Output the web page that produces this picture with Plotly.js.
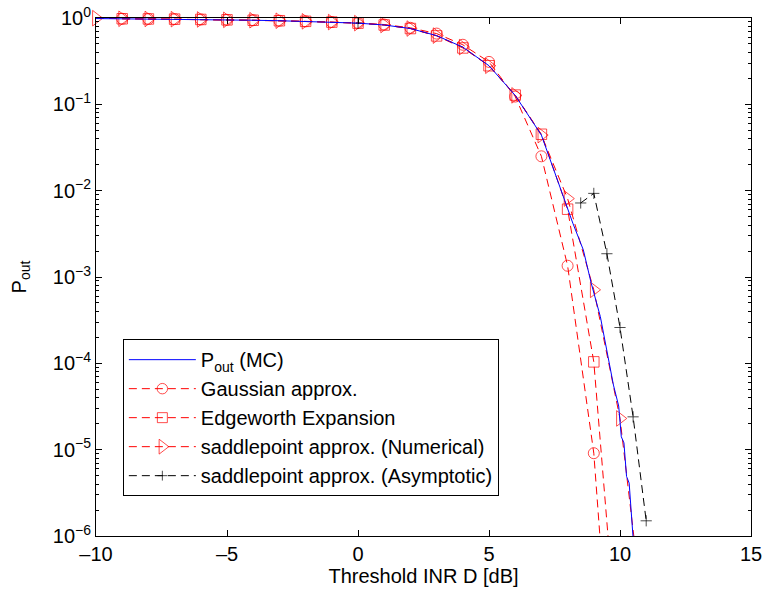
<!DOCTYPE html>
<html>
<head>
<meta charset="utf-8">
<script src="https://cdn.plot.ly/plotly-3.0.1.min.js"></script>
<style>html,body{margin:0;padding:0;background:#fff;}#chart{width:762px;height:592px;}</style>
</head>
<body>
<div id="chart"></div>
<script>
// ---- data ----
const mcX = [-10,-9,-8,-7,-6,-5,-4,-3,-2,-1,0,1,2,3,4,5,6,7,7.2,7.8,8.2,8.6,8.9,9.25,9.5,9.75,9.95,10.05,10.15,10.25,10.35,10.5];
const mcY = [0.985,0.98,0.975,0.97,0.962,0.952,0.942,0.93,0.915,0.897,0.872,0.83,0.755,0.625,0.46,0.28,0.127,0.044,0.0296,9.3e-3,4.2e-3,2.06e-3,8.5e-4,3.47e-4,1.43e-4,5.6e-5,3.2e-5,1.41e-5,1.2e-5,4.9e-6,4.1e-6,9.5e-7];

const gaussX = [-9,-8,-7,-6,-5,-4,-3,-2,-1,0,1,2,3,4,5,6,7,8,9,10];
const gaussY = [0.98,0.975,0.97,0.962,0.952,0.942,0.93,0.915,0.897,0.875,0.84,0.77,0.66,0.49,0.31,0.123,0.025,1.35e-3,9.1e-6,7e-10];

const edgeX = [-9,-8,-7,-6,-5,-4,-3,-2,-1,0,1,2,3,4,5,6,7,8,9,10];
const edgeY = [0.98,0.975,0.97,0.962,0.952,0.942,0.93,0.915,0.897,0.872,0.83,0.755,0.62,0.45,0.28,0.128,0.045,6.1e-3,1.04e-4,2e-8];

const spNumX = [-10,-9,-8,-7,-6,-5,-4,-3,-2,-1,0,1,2,3,4,5,6,7,8,9,10,11];
const spNumY = [0.995,0.98,0.975,0.97,0.962,0.952,0.942,0.93,0.915,0.897,0.872,0.83,0.755,0.625,0.46,0.28,0.127,0.044,8.1e-3,7.1e-4,2.3e-5,6e-8];

const spAsyX = [0,null,8.5,9,9.5,10,10.5,11];
const spAsyY = [0.87,null,7.2e-3,9.3e-3,1.86e-3,2.6e-4,2.4e-5,1.5e-6];

const xTickVals = [-10,-5,0,5,10,15];
const xTickText = ['–10','–5','0','5','10','15'];
const yTickVals = [1e-6,1e-5,1e-4,1e-3,1e-2,1e-1,1];
const yTickText = ['10<sup>−6</sup>','10<sup>−5</sup>','10<sup>−4</sup>','10<sup>−3</sup>','10<sup>−2</sup>','10<sup>−1</sup>','10<sup>0</sup>'];

const names = ['P<sub>out</sub> (MC)','Gaussian approx.','Edgeworth Expansion','saddlepoint approx. (Numerical)','saddlepoint approx. (Asymptotic)'];

const YMIN = 1e-6;
function sizes(ys, s){ return ys.map(v => (v === null || v < YMIN) ? 0 : s); }

const FONT = 'Liberation Sans, Arial, Helvetica, sans-serif';
const FS = 20;
const DASH = '8px,5px';

const traces = [
  {x: gaussX, y: gaussY, name: names[1], mode: 'lines+markers', legendgroup: 'b', legendrank: 2, cliponaxis: false,
   line: {color: '#ff0000', width: 1, dash: DASH},
   marker: {symbol: 'circle-open', size: sizes(gaussY, 11), color: '#ff0000', line: {width: 1, color: '#ff0000'}}},
  {x: edgeX, y: edgeY, name: names[2], mode: 'lines+markers', legendgroup: 'c', legendrank: 3, cliponaxis: false,
   line: {color: '#ff0000', width: 1, dash: DASH},
   marker: {symbol: 'square-open', size: sizes(edgeY, 10.5), color: '#ff0000', line: {width: 1, color: '#ff0000'}}},
  {x: spNumX, y: spNumY, name: names[3], mode: 'lines+markers', legendgroup: 'd', legendrank: 4, cliponaxis: false,
   line: {color: '#ff0000', width: 1, dash: DASH},
   marker: {symbol: 'triangle-right-open', size: sizes(spNumY, 13.5), color: '#ff0000', line: {width: 1, color: '#ff0000'}}},
  {x: spAsyX, y: spAsyY, name: names[4], mode: 'lines+markers', legendgroup: 'e', legendrank: 5, cliponaxis: false, connectgaps: false,
   line: {color: '#000000', width: 1, dash: DASH},
   marker: {symbol: 'cross-thin-open', size: sizes(spAsyY, 8), color: '#000000', line: {width: 1, color: '#000000'}}},
  {x: mcX, y: mcY, name: names[0], mode: 'lines', legendgroup: 'a', legendrank: 1,
   line: {color: '#0000ff', width: 1}}
];

const layout = {
  width: 762, height: 592,
  margin: {l: 96, r: 11, t: 18, b: 56, pad: 0},
  paper_bgcolor: '#ffffff', plot_bgcolor: '#ffffff',
  font: {family: FONT, size: FS, color: '#000'},
  showlegend: true,
  xaxis: {
    range: [-10, 15], type: 'linear',
    tickvals: xTickVals, ticktext: xTickText, ticklabeloverflow: 'allow',
    ticks: 'inside', ticklen: 6, tickwidth: 1, tickcolor: '#000',
    showline: true, linecolor: '#000', linewidth: 1, mirror: 'ticks',
    showgrid: false, zeroline: false,
    tickfont: {family: FONT, size: FS},
    title: {text: 'Threshold INR D [dB]', font: {family: FONT, size: FS}, standoff: 4}
  },
  yaxis: {
    type: 'log', range: [-6, 0],
    tickvals: yTickVals, ticktext: yTickText, ticklabeloverflow: 'allow',
    ticks: 'inside', ticklen: 6, tickwidth: 1, tickcolor: '#000',
    minor: {ticks: 'inside', ticklen: 3, tickwidth: 1, tickcolor: '#000', dtick: 'D1', showgrid: false},
    showline: true, linecolor: '#000', linewidth: 1, mirror: 'ticks',
    showgrid: false, zeroline: false, automargin: 'left',
    tickfont: {family: FONT, size: FS},
    title: {text: 'P<sub>out</sub>', font: {family: FONT, size: FS}, standoff: 20}
  },
  legend: {
    x: 0.041, y: 0.38, xanchor: 'left', yanchor: 'top',
    bgcolor: '#ffffff', bordercolor: '#000', borderwidth: 1,
    font: {family: FONT, size: FS},
    itemwidth: 67, traceorder: 'grouped', tracegroupgap: 0
  }
};

Plotly.newPlot('chart', traces, layout, {displayModeBar: false, staticPlot: true});
</script>
</body>
</html>
